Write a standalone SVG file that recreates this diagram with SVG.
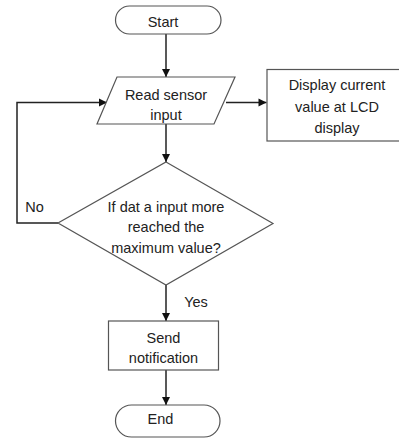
<svg xmlns="http://www.w3.org/2000/svg" width="399" height="438" viewBox="0 0 399 438">
<style>
.shape{fill:#fff;stroke:#555;stroke-width:1.2}
.conn{fill:none;stroke:#222;stroke-width:1.5}
text{font-family:"Liberation Sans",Arial,sans-serif;font-size:14.5px;fill:#222;text-anchor:middle}
</style>
<defs>
<marker id="arr" markerWidth="10" markerHeight="10" refX="9" refY="5" orient="auto" markerUnits="userSpaceOnUse">
<path d="M1,1 L9,5 L1,9 Z" fill="#111"/>
</marker>
</defs>
<rect width="399" height="438" fill="#fff"/>
<g id="connectors">
<line class="conn" x1="166" y1="34" x2="166" y2="77" marker-end="url(#arr)"/>
<line class="conn" x1="226" y1="102.5" x2="266.5" y2="102.5" marker-end="url(#arr)"/>
<line class="conn" x1="166" y1="124" x2="166" y2="162" marker-end="url(#arr)"/>
<polyline class="conn" points="58,223 17,223 17,102.5 107,102.5" marker-end="url(#arr)"/>
<line class="conn" x1="166" y1="285" x2="166" y2="321" marker-end="url(#arr)"/>
<line class="conn" x1="166" y1="370" x2="166" y2="405" marker-end="url(#arr)"/>
<text x="34.5" y="212">No</text>
<text x="196" y="307">Yes</text>
</g>
<g id="start">
<rect class="shape" x="115.5" y="6" width="105.5" height="28" rx="14"/>
<text x="163" y="27">Start</text>
</g>
<g id="read">
<polygon class="shape" points="117,77 235,77 214,124 97,124"/>
<text x="166" y="100">Read sensor</text>
<text x="166" y="120">input</text>
</g>
<g id="display">
<rect class="shape" x="267" y="69.5" width="140" height="71.5"/>
<text x="337" y="90">Display current</text>
<text x="337" y="112">value at LCD</text>
<text x="337" y="133">display</text>
</g>
<g id="decision">
<polygon class="shape" points="166,162 273,223.5 166,285 58,223"/>
<text x="166" y="212">If dat a input more</text>
<text x="166" y="232">reached the</text>
<text x="166" y="253">maximum value?</text>
</g>
<g id="send">
<rect class="shape" x="108.5" y="321" width="110" height="49"/>
<text x="163.5" y="343">Send</text>
<text x="163.5" y="363">notification</text>
</g>
<g id="end">
<rect class="shape" x="115.5" y="405" width="104.5" height="32" rx="16"/>
<text x="160.5" y="424">End</text>
</g>
</svg>
